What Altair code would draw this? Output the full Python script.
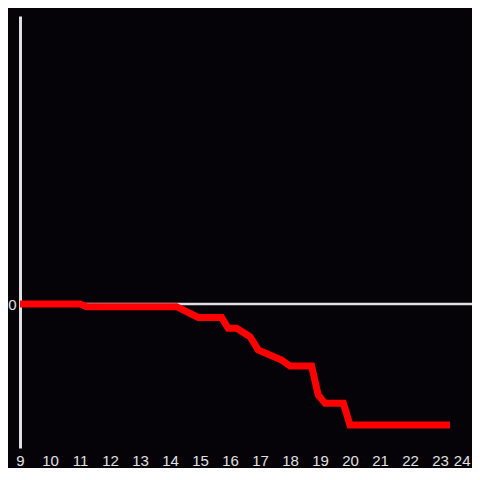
import altair as alt
import pandas as pd

hours = [9.0, 11.0, 11.22, 14.22, 14.94, 15.72, 15.94, 16.22, 16.67, 16.94,
         17.72, 18.0, 18.72, 18.94, 19.17, 19.78, 20.0, 23.33]
values = [0.0, 0.0, -0.019, -0.019, -0.093, -0.093, -0.169, -0.169, -0.227, -0.319,
          -0.389, -0.431, -0.431, -0.632, -0.69, -0.69, -0.84, -0.84]
x_ticks = list(range(9, 25))

df = pd.DataFrame({"hour": hours, "value": values})

BG = "#050308"
AX = "#e0e0e0"

x_scale = alt.Scale(domain=[9, 24], nice=False, zero=False)
y_scale = alt.Scale(domain=[-1, 2], nice=False, zero=False)

y_axis = alt.Axis(values=[0], title=None, domain=True, domainColor=AX, domainWidth=3,
                  ticks=False, grid=False, labelColor=AX, labelFontSize=15,
                  labelFont="Liberation Sans", labelPadding=4)
x_axis = alt.Axis(values=x_ticks, title=None, domain=False, ticks=False, grid=False,
                  labelColor=AX, labelFontSize=15, labelFont="Liberation Sans",
                  labelPadding=5, labelFlush=False, labelOverlap=False,
                  labelAlign=alt.ExprRef(expr="datum.value == 24 ? 'right' : 'center'"))

zero_rule = alt.Chart(pd.DataFrame({"z": [0]})).mark_rule(
    color=AX, strokeWidth=2.5
).encode(
    y=alt.Y("z:Q", scale=y_scale, axis=y_axis),
    x=alt.value(0),
    x2=alt.value(452),
)

line = alt.Chart(df).mark_line(color="#ff0000", strokeWidth=7, strokeJoin="miter").encode(
    x=alt.X("hour:Q", scale=x_scale, axis=x_axis),
    y=alt.Y("value:Q", scale=y_scale, axis=y_axis),
)

chart = alt.layer(zero_rule, line).properties(
    width=450, height=432,
    autosize="none",
    padding={"left": 12, "top": 8, "right": 2, "bottom": 20},
    background=BG,
).configure_view(stroke=None)

chart.save("out.html", embed_options={"renderer": "svg", "actions": False})
